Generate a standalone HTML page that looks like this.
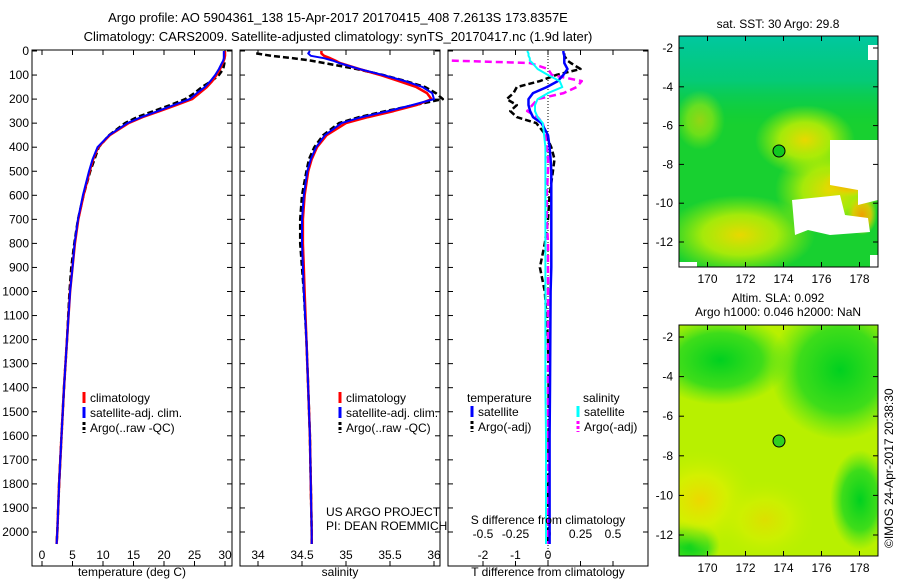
<!DOCTYPE html>
<html><head><meta charset="utf-8"><style>
html,body{margin:0;padding:0;background:#fff;}
svg{display:block;font-family:"Liberation Sans",sans-serif;}
</style></head><body>
<svg id="fig" width="900" height="580" viewBox="0 0 900 580">
<defs>
<radialGradient id="y1a" cx="0.5" cy="0.5" r="0.5"><stop offset="0" stop-color="#e8d800"/><stop offset="0.5" stop-color="#c8f000" stop-opacity="0.8"/><stop offset="1" stop-color="#b0f000" stop-opacity="0"/></radialGradient>
<radialGradient id="or1" cx="0.5" cy="0.5" r="0.5"><stop offset="0" stop-color="#f0a000"/><stop offset="0.6" stop-color="#f0c800" stop-opacity="0.8"/><stop offset="1" stop-color="#e0e000" stop-opacity="0"/></radialGradient>
<linearGradient id="top1" x1="0" y1="0" x2="0" y2="1"><stop offset="0" stop-color="#00c8a0"/><stop offset="0.5" stop-color="#00c888" stop-opacity="0.8"/><stop offset="1" stop-color="#00cc40" stop-opacity="0"/></linearGradient>
<radialGradient id="y2a" cx="0.5" cy="0.5" r="0.5"><stop offset="0" stop-color="#ecd800"/><stop offset="0.5" stop-color="#d8f000" stop-opacity="0.85"/><stop offset="1" stop-color="#c0f000" stop-opacity="0"/></radialGradient>
<radialGradient id="g2a" cx="0.5" cy="0.5" r="0.5"><stop offset="0" stop-color="#00d020"/><stop offset="0.6" stop-color="#20d820" stop-opacity="0.8"/><stop offset="1" stop-color="#40e020" stop-opacity="0"/></radialGradient>
</defs>

<g font-size="13" text-anchor="middle">
<text x="338" y="22">Argo profile: AO 5904361_138 15-Apr-2017 20170415_408 7.2613S 173.8357E</text>
<text x="338" y="41">Climatology: CARS2009. Satellite-adjusted climatology: synTS_20170417.nc (1.9d later)</text>
</g>

<g id="p1"></g>
<g id="p2"></g>
<g id="p3"></g>

<g>
<clipPath id="c1"><rect x="679" y="36" width="199" height="231"/></clipPath>
<g clip-path="url(#c1)">
<rect x="679" y="36" width="199" height="231" fill="#18d030"/>
<rect x="679" y="36" width="199" height="90" fill="url(#top1)"/>
<ellipse cx="740" cy="235" rx="75" ry="40" fill="url(#y1a)"/>
<ellipse cx="805" cy="140" rx="50" ry="35" fill="url(#y1a)"/>
<ellipse cx="830" cy="190" rx="55" ry="45" fill="url(#y1a)"/>
<ellipse cx="850" cy="183" rx="28" ry="14" fill="url(#or1)"/>
<ellipse cx="862" cy="215" rx="15" ry="20" fill="url(#or1)"/>
<ellipse cx="700" cy="120" rx="25" ry="30" fill="url(#y1a)" opacity="0.6"/>
<path d="M830,140 L878,140 L878,200 L858,205 L858,190 L830,185 Z" fill="#fff"/>
<path d="M792,200 L840,195 L845,215 L868,218 L870,232 L830,235 L808,230 L795,235 Z" fill="#fff"/>
<path d="M868,45 L878,45 L878,60 L868,60 Z" fill="#fff"/>
<path d="M870,255 L878,255 L878,267 L870,267 Z" fill="#fff"/>
<rect x="679" y="262" width="18" height="5" fill="#fff"/>
</g>
<rect x="679" y="36" width="199" height="231" fill="none" stroke="#000"/>
<circle cx="779" cy="151" r="6" fill="#10c820" stroke="#000"/>
<text x="778" y="28" font-size="12" text-anchor="middle">sat. SST: 30 Argo: 29.8</text>
</g>

<g>
<clipPath id="c2"><rect x="679" y="325" width="199" height="231"/></clipPath>
<g clip-path="url(#c2)">
<rect x="679" y="325" width="199" height="231" fill="#b8f000"/>
<ellipse cx="720" cy="360" rx="70" ry="45" fill="url(#g2a)"/>
<ellipse cx="840" cy="370" rx="70" ry="70" fill="url(#g2a)"/>
<ellipse cx="860" cy="500" rx="30" ry="50" fill="url(#g2a)"/>
<ellipse cx="690" cy="545" rx="30" ry="25" fill="url(#g2a)"/>
<ellipse cx="700" cy="500" rx="55" ry="50" fill="url(#y2a)"/>
<ellipse cx="765" cy="520" rx="50" ry="40" fill="url(#y2a)" opacity="0.7"/>
</g>
<rect x="679" y="325" width="199" height="231" fill="none" stroke="#000"/>
<circle cx="779" cy="441" r="6" fill="#30d020" stroke="#000"/>
<text x="778" y="302" font-size="12" text-anchor="middle">Altim. SLA: 0.092</text>
<text x="778" y="316" font-size="12" text-anchor="middle">Argo h1000: 0.046 h2000: NaN</text>
</g>
<text transform="translate(893,548) rotate(-90)" font-size="12">©IMOS 24-Apr-2017 20:38:30</text>

<script>
// ---- data ----
const depthTicks=[0,100,200,300,400,500,600,700,800,900,1000,1100,1200,1300,1400,1500,1600,1700,1800,1900,2000];
const tempTicks=[0,5,10,15,20,25,30];
const salTicks=[34,34.5,35,35.5,36];
const sTicks=[-0.5,-0.25,0,0.25,0.5];
const sTickLabels=["-0.5","-0.25","0","0.25","0.5"];
const tTicks=[-2,-1,0,1,2];
const tTickLabels=["-2","-1","0","",""];
const latTicks1=[-2,-4,-6,-8,-10,-12];
const lonTicks=[170,172,174,176,178];

const depths=[0,10,20,30,40,50,75,100,125,150,175,200,225,250,275,300,350,400,450,500,600,700,800,900,1000,1200,1400,1600,1800,2000,2050];
const tempClim=[30,30,30,29.9,29.8,29.6,29.2,28.6,27.9,27,25.8,24.6,22,19.3,16.5,14.2,11.1,9.2,8.4,7.8,6.8,5.95,5.4,5.0,4.6,4.1,3.6,3.2,2.8,2.5,2.4];
const tempSat =[29.8,29.8,29.8,29.8,29.7,29.5,29.0,28.4,27.6,26.7,25.4,24.2,21.6,19.0,16.3,14.0,11.0,9.1,8.3,7.7,6.7,5.9,5.35,5.0,4.6,4.1,3.6,3.2,2.8,2.5,2.4];
const tempArgo=[null,29.9,29.9,29.9,29.9,29.9,29.7,29.0,27.8,26.2,25.0,23.5,21.0,18.3,15.6,13.6,11.0,9.3,8.6,7.9,6.8,5.9,5.3,4.8,4.5,4.1,3.6,3.2,2.8,2.5,2.4];
const salClim=[34.72,34.72,34.75,34.82,34.88,34.93,35.15,35.39,35.6,35.8,35.92,35.97,35.8,35.54,35.25,35.0,34.78,34.67,34.61,34.57,34.53,34.51,34.51,34.52,34.53,34.55,34.57,34.59,34.6,34.61,34.61];
const salSat =[34.59,34.57,34.6,34.75,34.85,34.92,35.15,35.42,35.67,35.87,35.98,36.0,35.75,35.48,35.18,34.95,34.76,34.66,34.6,34.56,34.52,34.5,34.5,34.51,34.52,34.55,34.57,34.59,34.6,34.61,34.61];
const salArgo=[null,33.98,34.15,34.4,34.6,34.75,35.12,35.42,35.68,35.9,36.02,36.1,35.78,35.45,35.15,34.92,34.74,34.64,34.58,34.55,34.5,34.48,34.48,34.5,34.52,34.55,34.57,34.59,34.6,34.61,34.61];
const dTsat =[0.47,0.48,0.5,0.5,0.5,0.5,0.6,0.47,0.3,-0.04,-0.46,-0.6,-0.6,-0.55,-0.46,-0.2,0,0.05,0.08,0.1,0.1,0.1,0.1,0.1,0.08,0.07,0.06,0.05,0.05,0.05,0.05];
const dTargo=[null,0.5,0.5,0.55,0.6,0.7,1.0,0.25,-0.25,-0.96,-1.06,-1.27,-0.96,-1.16,-0.96,-0.36,-0.06,0.1,0.2,0.15,0.05,0,-0.1,-0.25,-0.1,0,0.02,0.02,0,0,0];
const dSsat =[-0.16,-0.15,-0.15,-0.14,-0.14,-0.12,-0.08,0,0.09,0.11,0,-0.08,-0.1,-0.1,-0.08,-0.04,-0.03,-0.02,-0.02,-0.02,-0.02,-0.02,-0.02,-0.02,-0.02,-0.02,-0.02,-0.015,-0.015,-0.015,-0.015];
const dSargo=[null,null,null,null,-0.74,-0.14,0,0.03,0.26,0.22,0.12,-0.08,-0.12,-0.16,-0.08,-0.04,-0.02,-0.01,0,0,-0.01,-0.01,0,0,0,0,0,0,0,0,0];

const NS="http://www.w3.org/2000/svg";
function mk(parent,tag,attrs,text){const e=document.createElementNS(NS,tag);for(const k in attrs)e.setAttribute(k,attrs[k]);if(text!==undefined)e.textContent=text;parent.appendChild(e);return e;}
const yD=d=>51+d*0.2405;
const TOP=50,BOT=566;

function frame(g,x0,x1){
  const r=mk(g,'rect',{x:x0,y:TOP,width:x1-x0,height:BOT-TOP,fill:'none',stroke:'#000'});
  
  
}
function depthAxis(g,x0,x1,labels){
  depthTicks.forEach(d=>{
    const y=yD(d);
    mk(g,'line',{x1:x0,x2:x0+5,y1:y,y2:y,stroke:'#000'});
    mk(g,'line',{x1:x1,x2:x1-5,y1:y,y2:y,stroke:'#000'});
    if(labels){const t=mk(g,'text',{x:x0-3,y:y+4,'font-size':12,'text-anchor':'end'},String(d));
      
      }
  });
}
function xAxis(g,ticks,labs,xf,ylab){
  ticks.forEach((v,i)=>{const x=xf(v);
    mk(g,'line',{x1:x,x2:x,y1:BOT,y2:BOT-5,stroke:'#000'});
    mk(g,'line',{x1:x,x2:x,y1:TOP,y2:TOP+5,stroke:'#000'});
    const t=mk(g,'text',{x:x,y:ylab,'font-size':12,'text-anchor':'middle'},labs[i]);
    
    });
}
function line(g,xs,xf,color,w,dash,name){
  const pts=[];
  xs.forEach((v,i)=>{if(v!==null)pts.push(xf(v).toFixed(1)+','+yD(depths[i]).toFixed(1));});
  const p=mk(g,'polyline',{points:pts.join(' '),fill:'none',stroke:color,'stroke-width':w,'stroke-dasharray':dash||'none','stroke-linejoin':'round'});
  
  
}
function legend(g,x,y,items){
  items.forEach((it,i)=>{
    mk(g,'line',{x1:x,x2:x,y1:y+i*15-10,y2:y+i*15+1,stroke:it[0],'stroke-width':3,'stroke-dasharray':it[2]||'none'});
    const t=mk(g,'text',{x:x+6,y:y+i*15,'font-size':12},it[1]);
    
    
  });
}

// Panel 1
const g1=document.getElementById('p1');
const xT=v=>42+v*6.1;
frame(g1,32,232);depthAxis(g1,32,232,true);
xAxis(g1,tempTicks,tempTicks.map(String),xT,559);
line(g1,tempArgo,xT,'#000',2.5,'6,3','argo-temperature-line');
line(g1,tempClim,xT,'#f00',2.5,null,'climatology-temperature-line');
line(g1,tempSat,xT,'#00f',2,null,'satellite-temperature-line');
legend(g1,84,402,[['#f00','climatology'],['#00f','satellite-adj. clim.'],['#000','Argo(..raw -QC)','3,2']]);
mk(g1,'text',{x:132,y:576,'font-size':12,'text-anchor':'middle'},'temperature (deg C)');

// Panel 2
const g2=document.getElementById('p2');
const xS=v=>258+(v-34)*88;
frame(g2,240,440);depthAxis(g2,240,440,false);
xAxis(g2,salTicks,["34","34.5","35","35.5","36"],xS,559);
line(g2,salArgo,xS,'#000',2.5,'6,3','argo-salinity-line');
line(g2,salClim,xS,'#f00',2.5,null,'climatology-salinity-line');
line(g2,salSat,xS,'#00f',2,null,'satellite-salinity-line');
legend(g2,340,402,[['#f00','climatology'],['#00f','satellite-adj. clim.'],['#000','Argo(..raw -QC)','3,2']]);
mk(g2,'text',{x:326,y:516,'font-size':12},'US ARGO PROJECT');
mk(g2,'text',{x:326,y:530,'font-size':12},'PI: DEAN ROEMMICH');
mk(g2,'text',{x:340,y:576,'font-size':12,'text-anchor':'middle'},'salinity');

// Panel 3
const g3=document.getElementById('p3');
const xDT=v=>548+v*32.5, xDS=v=>548+v*130;
frame(g3,448,648);depthAxis(g3,448,648,false);
xAxis(g3,tTicks,tTickLabels,xDT,559);
sTicks.forEach((v,i)=>{const t=mk(g3,'text',{x:xDS(v),y:538,'font-size':12,'text-anchor':'middle'},sTickLabels[i]);
  
  });
mk(g3,'line',{x1:548,x2:548,y1:TOP,y2:BOT,stroke:'#000','stroke-dasharray':'1,2'});
line(g3,dTargo,xDT,'#000',2.5,'6,3','argo-temperature-diff-line');
line(g3,dSargo,xDS,'#f0f',2.5,'7,4','argo-salinity-diff-line');
line(g3,dTsat,xDT,'#00f',2.5,null,'satellite-temperature-diff-line');
line(g3,dSsat,xDS,'#0ff',2,null,'satellite-salinity-diff-line');
mk(g3,'text',{x:467,y:402,'font-size':12},'temperature');
mk(g3,'text',{x:583,y:402,'font-size':12},'salinity');
legend(g3,472,416,[['#00f','satellite'],['#000','Argo(-adj)','3,2']]);
legend(g3,578,416,[['#0ff','satellite'],['#f0f','Argo(-adj)','3,2']]);
mk(g3,'text',{x:548,y:524,'font-size':12,'text-anchor':'middle'},'S difference from climatology');
mk(g3,'text',{x:548,y:576,'font-size':12,'text-anchor':'middle'},'T difference from climatology');

// Map axes
const svg=document.getElementById('fig');
function mapAxes(y0,y1,latPx){
  const g=mk(svg,'g',{});
  
  
  lonTicks.forEach(v=>{const x=679+(v-168.5)*19;
    mk(g,'line',{x1:x,x2:x,y1:y1,y2:y1-5,stroke:'#000'});
    mk(g,'line',{x1:x,x2:x,y1:y0,y2:y0+5,stroke:'#000'});
    mk(g,'text',{x:x,y:y1+16,'font-size':12,'text-anchor':'middle'},String(v));});
  latTicks1.forEach(v=>{const y=latPx(v);
    mk(g,'line',{x1:679,x2:684,y1:y,y2:y,stroke:'#000'});
    mk(g,'line',{x1:878,x2:873,y1:y,y2:y,stroke:'#000'});
    mk(g,'text',{x:673,y:y+4,'font-size':12,'text-anchor':'end'},String(v));});
}
mapAxes(36,267,v=>48+(-2-v)*19.4);
mapAxes(325,556,v=>337+(-2-v)*19.8);
</script>
</svg>
</body></html>
